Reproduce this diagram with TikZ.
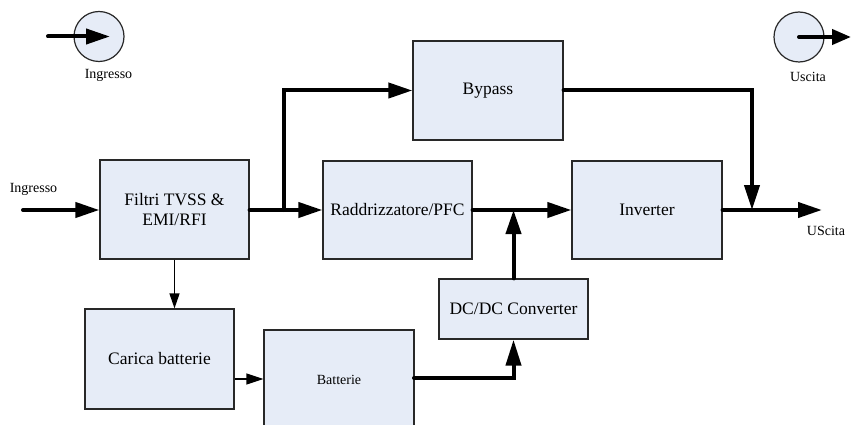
\documentclass[tikz,border=0pt]{standalone}
\usepackage{fontspec}
\setmainfont{Liberation Serif}
\usetikzlibrary{arrows.meta}
\definecolor{boxfill}{RGB}{230,236,247}
\definecolor{boxline}{RGB}{40,40,40}
\tikzset{
  blk/.style={draw=boxline,line width=1.2pt,fill=boxfill,inner sep=0pt,align=center,
    font=\fontsize{17.5}{20}\selectfont},
  lbl/.style={inner sep=0pt,font=\fontsize{14}{16}\selectfont},
  bigarr/.style={line width=4pt,line cap=round,line join=miter,-{Triangle[length=24pt,width=15pt]}},
  thinarr/.style={line width=1.3pt,-{Triangle[length=16pt,width=11pt]}},
  circ/.style={circle,draw=boxline,line width=1.2pt,fill=boxfill,minimum size=50pt,inner sep=0pt},
}
\begin{document}
\begin{tikzpicture}[x=1pt,y=-1pt]
\useasboundingbox (0,0) rectangle (853,425);
\clip (0,0) rectangle (853,425);
% blocks
\node[blk,minimum width=149pt,minimum height=99pt] (fil) at (174.5,209.5) {Filtri TVSS \&\\EMI/RFI};
\node[blk,minimum width=149pt,minimum height=98pt] (rad) at (397.5,210) {Raddrizzatore/PFC};
\node[blk,minimum width=150pt,minimum height=99pt] (byp) at (488,90.5) {Bypass};
\node[blk,minimum width=150pt,minimum height=98pt] (inv) at (647,210) {Inverter};
\node[blk,minimum width=149pt,minimum height=60pt] (dcdc) at (513.5,309) {DC/DC Converter};
\node[blk,minimum width=149pt,minimum height=100pt] (car) at (159.5,359) {Carica batterie};
\node[blk,minimum width=150pt,minimum height=100pt,font=\fontsize{14}{16}\selectfont] (bat) at (339,380) {Batterie};
% circles
\node[circ] (cin) at (99,36.5) {};
\node[circ] (cout) at (799,37) {};
\node[lbl] (lin) at (108.5,75) {Ingresso};
\node[lbl] (lout) at (808,77) {Uscita};
\coordinate (cinS) at (48,36.5);
\coordinate (cinE) at (110,36.5);
\coordinate (coutE) at (851,37);
\draw[bigarr] (cinS) -- (cinE);
\draw[bigarr,-{Triangle[length=19pt,width=15pt]}] (cout.center) -- (coutE);
% input
\node[lbl] (ling) at (33.5,189) {Ingresso};
\coordinate (inS) at (23,210);
\draw[bigarr] (inS) -- (fil.west |- inS);
% filter to raddrizzatore and bypass
\coordinate (br) at (284,210);
\draw[bigarr] (fil.east |- br) -- (rad.west |- br);
\draw[bigarr] (br) |- (byp.west);
% bypass to output junction
\coordinate (oj) at (752,210);
\draw[bigarr,-{Triangle[length=25pt,width=15pt]}] (byp.east) -| (oj);
% raddrizzatore to inverter
\coordinate (dj) at (513.5,210);
\draw[bigarr] (rad.east |- dj) -- (inv.west |- dj);
\draw[bigarr] (dcdc.north) -- (dj);
% inverter output
\coordinate (outE) at (822,210);
\draw[bigarr] (inv.east |- outE) -- (outE);
\node[lbl] (lus) at (826,231) {UScita};
% filter down to carica
\draw[thinarr,-{Triangle[length=15pt,width=10pt]}] (fil.south) -- (fil.south |- car.north);
% carica to batterie
\coordinate (cb) at (234,379);
\draw[thinarr,-{Triangle[length=17pt,width=11pt]}] (car.east |- cb) -- (bat.west |- cb);
% batterie to dcdc
\coordinate (bd) at (414,378);
\draw[bigarr,-{Triangle[length=26pt,width=15pt]}] (bd) -| (dcdc.south);
\end{tikzpicture}
\end{document}
